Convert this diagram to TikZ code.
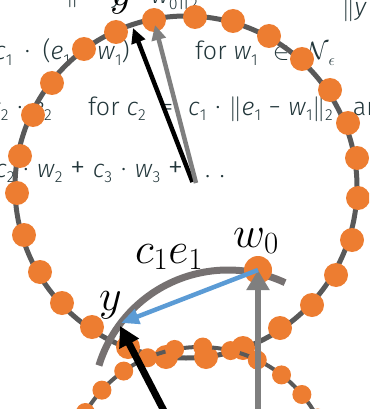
\RequirePackage{fix-cm}
\documentclass[tikz,border=0pt]{standalone}
\usepackage{fontspec}
\usetikzlibrary{arrows.meta}
\newfontfamily\firal{Fira Sans}[UprightFont=* Light, ItalicFont=* Light Italic]
\definecolor{txt}{HTML}{23373B}
\definecolor{dotc}{HTML}{ED7D31}
\definecolor{ringc}{HTML}{595959}
\definecolor{arcc}{HTML}{767171}
\definecolor{garr}{HTML}{7F7F7F}
\definecolor{barr}{HTML}{5B9BD5}
\newcommand\mi[1]{\textit{#1}}
\newcommand\sbs[1]{\raisebox{-0.22em}{\fontsize{16}{16}\selectfont #1}}
\newcommand\cdt{\hspace{0.35em}·\hspace{0.35em}}
\newcommand\wcdt{\hspace{0.5em}·\hspace{0.5em}}
\newcommand\mns{\hspace{0.3em}−\hspace{0.3em}}
\newcommand\pls{\hspace{0.3em}{\fontsize{31}{31}\selectfont +}\hspace{0.3em}}
\newcommand\rel[1]{\hspace{0.6em}#1\hspace{0.6em}}
\begin{document}
\begin{tikzpicture}[x=1pt,y=-1pt,
  bgtext/.style={text=txt,font=\firal\fontsize{25}{25}\selectfont,inner sep=0pt},
  lbl/.style={font=\fontsize{44}{44}\selectfont,inner sep=0pt,text=black},
  ring/.style={draw=ringc},
  bigdot/.style={fill=dotc},
  arrowline/.style={line cap=butt}]
\useasboundingbox (0,0) rectangle (369,409);
\clip (0,0) rectangle (369,409);
% background text
\node[bgtext,anchor=base west] (t1l) at (66,2) {$\Vert$};
\node[bgtext,anchor=base east] (t1a) at (198,4) {\mi{y}\mns\mi{w}\sbs{0}$\Vert$\sbs{2}};
\node[bgtext,anchor=base west] (t1b) at (342,16) {$\Vert$\mi{y}};
\node[bgtext,anchor=base east] (t2a) at (130,60) {\mi{c}\sbs{1}\wcdt(\mi{e}\sbs{1}\mns\mi{w}\sbs{1})};
\node[bgtext,anchor=base west] (t2b) at (195,60) {for \mi{w}\sbs{1}\rel{$\in$}$\mathcal{N}$\sbs{$\epsilon$}};
\node[bgtext,anchor=base east] (t3a) at (52,115) {\mi{c}\sbs{2}\cdt\mi{e}\sbs{2}};
\node[bgtext,anchor=base west] (t3b) at (88,115) {for \mi{c}\sbs{2}\rel{=}\mi{c}\sbs{1}\cdt$\Vert$\mi{e}\sbs{1}\mns\mi{w}\sbs{1}$\Vert$\sbs{2}\hspace{0.8em}and};
\node[bgtext,anchor=base east] (t4) at (225,177) {\mi{c}\sbs{2}\cdt\mi{w}\sbs{2}\pls\mi{c}\sbs{3}\cdt\mi{w}\sbs{3}\pls. . .};
% big ring
\coordinate (bc) at (186,187);
\draw[ring,line width=5pt] (bc) circle[radius=171];
\foreach \p in {(195,17),(233,21),(269,36),(302,59),(330,90),(348,123),(357,158),(358,198),(352,240),(336,275),(312,305),(280,328),(243,348),(206,357),(166,357),(128,347),(92,327),(62,303),(40,272),(24,235),(17,193),(20,156),(33,115),(52,83),(84,49),(116,32),(154,20)}
  \fill[bigdot] \p circle[radius=12];
% small ring
\coordinate (sc) at (200,480);
\draw[ring,line width=4pt] (sc) circle[radius=133];
\foreach \a in {15.5,27.8,40,52.2,64.5,76.7,88.8,101,113.2,125,137.5,149.5,161.7}
  \fill[bigdot] ({200+133*cos(\a)},{480-133*sin(\a)}) circle[radius=9.5];
% grey arc
\draw[arcc,line width=7pt] ({228+135*cos(65)},{405-135*sin(65)}) arc[start angle=-65,end angle=-163,radius=135];
% w0 dot
\coordinate (w0) at (258,270);
\fill[bigdot] (w0) circle[radius=14];
% lower arrows
\coordinate (bstart) at (168.7,420);
\coordinate (ytip) at (120,326);
\coordinate (gstart) at (258,420);
\coordinate (btip) at (121,323);
\draw[arrowline,black,line width=7pt,-{Triangle[length=20pt,width=21pt]}] (bstart) -- (ytip);
\draw[arrowline,garr,line width=6pt,-{Triangle[length=20pt,width=22pt]}] (gstart) -- (w0);
\draw[arrowline,barr,line width=4.5pt,-{Triangle[length=18pt,width=15pt]}] (w0) -- (btip);
% upper arrows
\coordinate (ub) at (192.5,182);
\coordinate (ubtip) at (133,28);
\coordinate (ug) at (196,183);
\coordinate (ugtip) at (155,25);
\draw[arrowline,black,line width=4.5pt,-{Triangle[length=15pt,width=14pt]}] (ub) -- (ubtip);
\draw[arrowline,garr,line width=4.5pt,-{Triangle[length=15pt,width=14pt]}] (ug) -- (ugtip);
% labels
\node[lbl,anchor=base west] (lw0) at (233,247) {$w_0$};
\node[lbl,anchor=base west] (lce) at (135,263) {$c_1e_1$};
\node[lbl,anchor=base west] (ly) at (99,310) {$y$};
\node[lbl,anchor=base west] (ly2) at (110,6) {$y$};
\end{tikzpicture}
\end{document}
